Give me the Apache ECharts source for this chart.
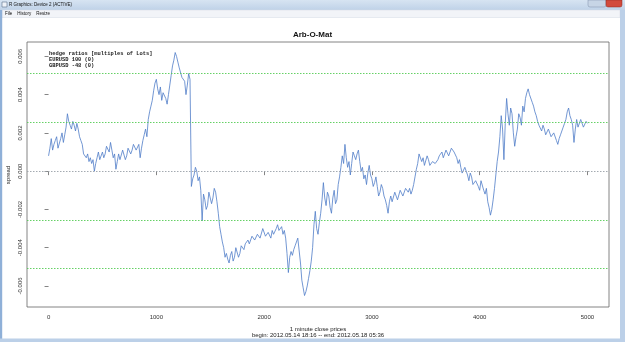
<!DOCTYPE html>
<html>
<head>
<meta charset="utf-8">
<script src="https://cdn.jsdelivr.net/npm/echarts@6/dist/echarts.min.js"></script>
<style>html,body{margin:0;padding:0;background:#fff}#c{width:625px;height:342px}</style>
</head>
<body>
<div id="c"></div>
<script>
// ---- data ----
const sampleStep = 12.5; // minutes between the samples
const spread = [
 0.0008,0.0012,0.0017,0.0011,0.0014,0.0016,0.0018,0.0012,0.0013,0.0017,
 0.0020,0.0015,0.0019,0.0023,0.0030,0.0026,0.0024,0.0022,0.0026,0.0024,
 0.0021,0.0025,0.0022,0.0018,0.0016,0.0014,0.0009,0.0010,0.0007,0.0009,
 0.0005,0.0007,0.0004,0.0006,0.0000,0.0004,0.0007,0.0010,0.0006,0.0005,
 0.0010,0.0007,0.0009,0.0013,0.0012,0.0010,0.0015,0.0011,0.0007,0.0009,
 0.0001,0.0005,0.0009,0.0006,0.0007,0.0011,0.0010,0.0006,0.0008,0.0012,
 0.0012,0.0009,0.0011,0.0014,0.0013,0.0011,0.0010,0.0014,0.0007,0.0012,
 0.0016,0.0019,0.0022,0.0018,0.0027,0.0031,0.0034,0.0037,0.0042,0.0046,
 0.0048,0.0043,0.0040,0.0044,0.0037,0.0041,0.0042,0.0038,0.0035,0.0040,
 0.0045,0.0050,0.0055,0.0058,0.0062,0.0060,0.0057,0.0054,0.0053,0.0049,
 0.0049,0.0047,0.0040,0.0045,0.0051,0.0048,-0.0008,-0.0004,-0.0002,0.0002,
 0.0000,-0.0005,-0.0003,-0.0010,-0.0026,-0.0012,-0.0015,-0.0020,-0.0018,-0.0011,
 -0.0012,-0.0017,-0.0014,-0.0009,-0.0011,-0.0016,-0.0022,-0.0029,-0.0033,-0.0037,
 -0.0040,-0.0045,-0.0043,-0.0046,-0.0048,-0.0044,-0.0042,-0.0047,-0.0045,-0.0040,
 -0.0041,-0.0045,-0.0043,-0.0039,-0.0040,-0.0041,-0.0038,-0.0039,-0.0036,-0.0038,
 -0.0037,-0.0034,-0.0033,-0.0036,-0.0035,-0.0033,-0.0032,-0.0035,-0.0034,-0.0030,
 -0.0031,-0.0034,-0.0035,-0.0032,-0.0033,-0.0035,-0.0031,-0.0033,-0.0034,-0.0030,
 -0.0028,-0.0031,-0.0031,-0.0029,-0.0033,-0.0031,-0.0035,-0.0043,-0.0053,-0.0045,
 -0.0042,-0.0044,-0.0041,-0.0039,-0.0038,-0.0035,-0.0036,-0.0048,-0.0057,-0.0061,
 -0.0065,-0.0063,-0.0060,-0.0056,-0.0052,-0.0047,-0.0040,-0.0028,-0.0021,-0.0030,
 -0.0033,-0.0027,-0.0022,-0.0015,-0.0006,-0.0014,-0.0018,-0.0011,-0.0013,-0.0019,
 -0.0022,-0.0014,-0.0010,-0.0017,-0.0015,-0.0007,-0.0003,0.0002,0.0008,0.0004,
 0.0014,0.0007,0.0002,0.0005,-0.0002,0.0004,0.0010,0.0008,0.0006,0.0009,
 0.0011,0.0005,0.0000,0.0002,-0.0004,-0.0002,-0.0007,-0.0001,0.0003,-0.0002,
 -0.0004,-0.0008,-0.0006,-0.0003,-0.0008,-0.0013,-0.0011,-0.0007,-0.0009,-0.0013,
 -0.0015,-0.0018,-0.0022,-0.0016,-0.0013,-0.0016,-0.0015,-0.0011,-0.0012,-0.0015,
 -0.0014,-0.0010,-0.0011,-0.0013,-0.0012,-0.0009,-0.0010,-0.0011,-0.0009,-0.0012,
 -0.0010,-0.0007,-0.0003,0.0001,0.0004,0.0009,0.0008,0.0005,0.0007,0.0003,
 0.0004,0.0008,0.0006,0.0003,0.0002,0.0005,0.0006,0.0004,0.0003,0.0006,
 0.0008,0.0007,0.0010,0.0007,0.0008,0.0011,0.0011,0.0008,0.0009,0.0012,
 0.0013,0.0010,0.0011,0.0007,0.0004,0.0006,0.0002,-0.0001,-0.0002,0.0002,
 0.0001,-0.0002,-0.0005,-0.0001,-0.0003,-0.0007,-0.0008,-0.0005,-0.0004,-0.0008,
 -0.0010,-0.0005,-0.0006,-0.0010,-0.0012,-0.0009,-0.0016,-0.0019,-0.0023,-0.0020,
 -0.0015,-0.0009,-0.0002,0.0005,0.0010,0.0018,0.0029,0.0022,0.0006,0.0025,
 0.0038,0.0030,0.0024,0.0033,0.0030,0.0020,0.0013,0.0018,0.0022,0.0030,
 0.0028,0.0024,0.0034,0.0031,0.0038,0.0041,0.0043,0.0040,0.0039,0.0036,
 0.0034,0.0031,0.0029,0.0026,0.0024,0.0025,0.0021,0.0024,0.0022,0.0019,
 0.0018,0.0022,0.0021,0.0018,0.0017,0.0020,0.0019,0.0016,0.0014,0.0017,
 0.0019,0.0021,0.0023,0.0025,0.0027,0.0031,0.0033,0.0029,0.0027,0.0024,
 0.0015,0.0022,0.0027,0.0023,0.0024,0.0027,0.0026,0.0023,0.0024,0.0026,
 0.0025
];
const xTicks = [0, 1000, 2000, 3000, 4000, 5000];
const yTicks = [-0.006, -0.004, -0.002, 0, 0.002, 0.004, 0.006];
const bandLines = [-0.0051, -0.00255, 0.00255, 0.0051];
const zeroLine = [0];
const legendLines = ["hedge ratios [multiples of Lots]", "EURUSD 100 (0)", "GBPUSD -48 (0)"];
const titleText = "Arb-O-Mat";
const xLabel1 = "1 minute close prices";
const xLabel2 = "begin: 2012.05.14 18:16 -- end: 2012.05.18 05:36";
const yLabel = "spread";

const X_MIN = -200, X_MAX = 5200, Y_MIN = -0.0071, Y_MAX = 0.00675;

const seriesData = spread.map((v, i) => [i * sampleStep, v]);

const chart = echarts.init(document.getElementById('c'), null, {renderer: 'canvas'});
const sans = 'Liberation Sans, Arial, sans-serif';
const mono = 'Liberation Mono, Courier New, monospace';

const graphics = [
  // window chrome: title bar
  {type: 'rect', shape: {x: 0, y: 0, width: 625, height: 10}, style: {fill: new echarts.graphic.LinearGradient(0, 0, 0, 1, [{offset: 0, color: '#d7e4f2'}, {offset: 1, color: '#bfd2e8'}])}, z: 0, silent: true},
  {type: 'rect', shape: {x: 2, y: 2, width: 5, height: 5}, style: {fill: '#eef2f8', stroke: '#5a6e8c', lineWidth: 0.6}, z: 1, silent: true},
  {type: 'text', x: 9, y: 5, style: {text: 'R Graphics: Device 2 (ACTIVE)', font: '4.5px ' + sans, fill: '#111', verticalAlign: 'middle'}, z: 1, silent: true},
  {type: 'rect', shape: {x: 588, y: 0, width: 18, height: 7, r: [0, 0, 2, 2]}, style: {fill: '#c7d5e6', stroke: '#7d8fa8', lineWidth: 0.5}, z: 1, silent: true},
  {type: 'rect', shape: {x: 606, y: 0, width: 16, height: 7, r: [0, 0, 2, 2]}, style: {fill: '#d24a3c', stroke: '#8a2a20', lineWidth: 0.5}, z: 1, silent: true},
  // menu bar
  {type: 'rect', shape: {x: 2, y: 10, width: 618, height: 7.5}, style: {fill: '#f2f4f8', stroke: '#d5dbe5', lineWidth: 0.5}, z: 0, silent: true},
  {type: 'text', x: 5, y: 13.8, style: {text: 'File    History    Resize', font: '4.5px ' + sans, fill: '#111', verticalAlign: 'middle'}, z: 1, silent: true},
  // borders
  {type: 'rect', shape: {x: 0, y: 10, width: 2.2, height: 332}, style: {fill: '#8fb0d8'}, z: 0, silent: true},
  {type: 'rect', shape: {x: 620, y: 10, width: 5, height: 332}, style: {fill: '#bcd0e8'}, z: 0, silent: true},
  {type: 'rect', shape: {x: 0, y: 338.5, width: 625, height: 3.5}, style: {fill: '#bcd0e8'}, z: 0, silent: true},
  // legend text
  {type: 'text', x: 49, y: 51, style: {text: legendLines.join('\n'), font: 'bold 5.4px ' + mono, fill: '#222', lineHeight: 5.9, verticalAlign: 'top'}, z: 5, silent: true},
  // x-axis description
  {type: 'text', x: 318, y: 329, style: {text: xLabel1, font: '6px ' + sans, fill: '#222', align: 'center', verticalAlign: 'middle'}, z: 5, silent: true},
  {type: 'text', x: 318, y: 335.5, style: {text: xLabel2, font: '6px ' + sans, fill: '#222', align: 'center', verticalAlign: 'middle'}, z: 5, silent: true},
  // y-axis description
  {type: 'text', x: 8, y: 175, rotation: Math.PI / 2, style: {text: yLabel, font: '6px ' + sans, fill: '#222', align: 'center', verticalAlign: 'middle'}, z: 5, silent: true}
];

const markData = bandLines.map(v => ({yAxis: v, lineStyle: {color: '#55cc55', width: 0.9, type: [1.5, 1.5]}}))
  .concat(zeroLine.map(v => ({yAxis: v, lineStyle: {color: '#9aa0a8', width: 0.9, type: [1.5, 1.5]}})));

const series = [
  {
    type: 'line',
    name: 'spread',
    data: seriesData,
    showSymbol: false,
    symbol: 'none',
    lineStyle: {color: '#4f7cc8', width: 0.8},
    z: 3,
    markLine: {
      silent: true, symbol: ['none', 'none'], label: {show: false},
      precision: 8,
      emphasis: {disabled: true},
      data: markData
    }
  }
];

chart.setOption({
  animation: false,
  backgroundColor: '#ffffff',
  title: {text: titleText, left: 'center', top: 26, textStyle: {fontSize: 8, fontWeight: 'bold', fontFamily: sans, color: '#111'}},
  grid: {left: 27, right: 16, top: 42, bottom: 35, show: true, borderColor: '#666', borderWidth: 0.8, backgroundColor: 'transparent'},
  xAxis: {
    type: 'value', min: X_MIN, max: X_MAX,
    axisLine: {show: false},
    splitLine: {show: false},
    axisTick: {show: true, inside: false, length: 4, customValues: xTicks, lineStyle: {color: '#666', width: 0.8}},
    axisLabel: {customValues: xTicks, margin: 7, fontSize: 6, color: '#333', fontFamily: sans,
      formatter: v => String(v)}
  },
  yAxis: {
    type: 'value', min: Y_MIN, max: Y_MAX,
    axisLine: {show: false},
    splitLine: {show: false},
    axisTick: {show: true, inside: false, length: 4, customValues: yTicks, lineStyle: {color: '#666', width: 0.8}},
    axisLabel: {customValues: yTicks, rotate: 90, margin: 4, fontSize: 6, color: '#333', fontFamily: sans,
      formatter: v => v.toFixed(3)}
  },
  series: series,
  graphic: graphics
});
</script>
</body>
</html>
